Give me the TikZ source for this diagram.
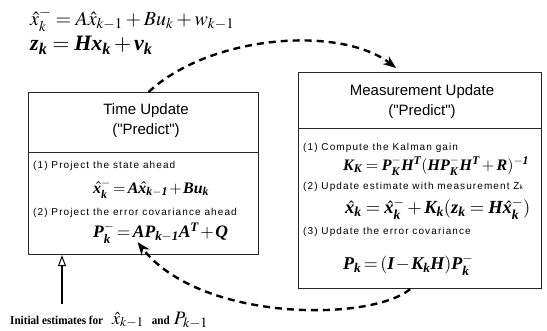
\documentclass[tikz,border=0pt]{standalone}
\usepackage{amsmath}
\usepackage{mathptmx}
\usepackage[no-math]{fontspec}
\newfontfamily\hdfont{Liberation Sans}
\newfontfamily\itmfont[LetterSpace=11]{Liberation Sans}
\newfontfamily\serfont[NFSSFamily=tbi]{Liberation Serif}
\DeclareMathAlphabet{\mathbi}{TU}{tbi}{\bfdefault}{it}
\usetikzlibrary{arrows.meta}
\tikzset{
  box/.style={draw=black!85, line width=1.2pt, anchor=north west, inner sep=0pt},
  title/.style={font=\hdfont\fontsize{15}{17}\selectfont, inner sep=0pt},
  item/.style={font=\itmfont\fontsize{10}{12}\selectfont, anchor=west, inner sep=0pt},
  beq/.style={anchor=west, inner sep=0pt},
  topeq/.style={anchor=west, inner sep=0pt},
  dasharrow/.style={line width=2.4pt, dash pattern=on 7pt off 5pt, -{Stealth[length=13pt,width=10pt]}},
  initarrow/.style={line width=1.8pt, -{Triangle[open,length=11pt,width=8pt,line width=1pt]}}
}
\newcommand{\fsz}[1]{\fontsize{#1}{#1}\selectfont}
\newcommand{\tight}{\medmuskip=1.5mu\thickmuskip=2.5mu}
\newcommand{\bhx}{\skew{3}{\hat}{\mathbi{x}}}
\newcommand{\mb}[1]{\mathbi{#1}}
\begin{document}
\begin{tikzpicture}[x=1pt,y=-1pt]
\useasboundingbox (0,0) rectangle (547,331);
% top equations
\node[topeq, font=\fsz{20}] (e1) at (30,20) {$\hat{x}_k^- = A\hat{x}_{k-1} + Bu_k + w_{k-1}$};
\node[topeq, font=\fsz{22}] (e2) at (30,45) {$\mathbi{z_k = Hx_k + v_k}$};
% time update box
\node[box, minimum width=230pt, minimum height=60pt] (tuh) at (28,92) {};
\node[box, minimum width=230pt, minimum height=102pt] (tub) at (28,152) {};
\node[title] (tut1) at (146,111) {Time Update};
\node[title] (tut2) at (146,131) {("Predict")};
\node[item] (tui1) at (33,166) {(1) Project the state ahead};
\node[beq, font=\fsz{16}\tight] (tueq1) at (93,189) {$\bhx_{\mb{k}}^- = \mb{A}\bhx_{\mb{k-1}} + \mb{Bu_k}$};
\node[item] (tui2) at (33,213) {(2) Project the error covariance ahead};
\node[beq, font=\fsz{17.5}\tight] (tueq2) at (93,233) {$\mathbi{P_k^- = AP_{k-1}A^T + Q}$};
% measurement update box
\node[box, minimum width=243pt, minimum height=56pt] (muh) at (298,72) {};
\node[box, minimum width=243pt, minimum height=160pt] (mub) at (298,128) {};
\node[title] (mut1) at (422,92) {Measurement Update};
\node[title] (mut2) at (422,112) {("Predict")};
\node[item] (mui1) at (303,148) {(1) Compute the Kalman gain};
\node[beq, font=\fsz{16}] (mueq1) at (343,166) {$\mathbi{K_K = P_K^- H^T (HP_K^- H^T + R)^{-1}}$};
\node[item] (mui2) at (303,187) {(2) Update estimate with measurement Z{\fontsize{6.5}{7}\selectfont k}};
\node[beq, font=\fsz{18.5}] (mueq2) at (345,209) {$\bhx_{\mb{k}} = \bhx_{\mb{k}}^- + \mb{K_k}(\mb{z_k} = \mb{H}\bhx_{\mb{k}}^-)$};
\node[item] (mui3) at (303,232) {(3) Update the error covariance};
\node[beq, font=\fsz{18}\tight] (mueq3) at (343,265) {$\mathbi{P_k = (I - K_kH)P_k^-}$};
% initial estimates
\node[anchor=west, inner sep=0pt] (init) at (10,320) {\scalebox{0.93}[1]{\serfont\bfseries\fsz{12}Initial estimates for}\hspace{9pt}{\fsz{18}$\hat{x}_{k-1}$}\hspace{8pt}\scalebox{0.93}[1]{\serfont\bfseries\fsz{12}and}\hspace{4pt}{\fsz{19}$P_{k-1}$}};
\coordinate (ia) at (62,304);
\draw[initarrow] (ia) -- (ia |- tub.south);
% cycle arrows
\draw[dasharrow] ([xshift=5pt]tuh.north) .. controls (210,35) and (340,25) .. ([xshift=-24pt,yshift=4pt]muh.north);
\draw[dasharrow] ([xshift=-10pt]mub.south) .. controls (370,322) and (200,322) .. ([xshift=-6pt,yshift=13pt]tub.south);
\end{tikzpicture}
\end{document}
